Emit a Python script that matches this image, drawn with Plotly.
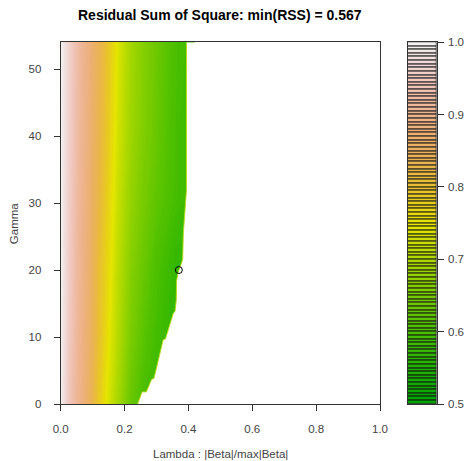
import colorsys
import plotly.graph_objects as go

# Grid of the RSS surface: lambda = |Beta|/max|Beta|, gamma = tuning parameter
lambda_vals = [0.00, 0.03, 0.06, 0.09, 0.12, 0.15, 0.18, 0.22, 0.26, 0.30, 0.34, 0.37, 0.42]
gamma_vals = [0, 10, 20, 30, 40, 54]
rss = [
    [1.000, 0.940, 0.895, 0.850, 0.785, 0.735, 0.690, 0.630, 0.595, None, None, None, None],
    [1.000, 0.945, 0.900, 0.860, 0.800, 0.750, 0.705, 0.650, 0.615, 0.590, 0.575, None, None],
    [1.000, 0.950, 0.905, 0.865, 0.805, 0.760, 0.712, 0.662, 0.630, 0.600, 0.580, 0.567, None],
    [1.000, 0.952, 0.908, 0.870, 0.820, 0.770, 0.722, 0.675, 0.645, 0.620, 0.600, 0.587, 0.580],
    [1.000, 0.956, 0.912, 0.875, 0.830, 0.780, 0.730, 0.685, 0.655, 0.630, 0.605, 0.590, 0.585],
    [1.000, 0.960, 0.915, 0.880, 0.840, 0.790, 0.740, 0.690, 0.660, 0.635, 0.610, 0.592, 0.588],
]

# Largest attainable lambda for each gamma (edge of the fitted region)
edge_lambda = [0.241, 0.255, 0.268, 0.285, 0.292, 0.321, 0.328, 0.353, 0.358, 0.362,
               0.363, 0.368, 0.376, 0.382, 0.384, 0.387, 0.391, 0.394, 0.394]
edge_gamma = [0.0, 1.8, 1.8, 3.7, 3.8, 9.6, 9.7, 13.6, 13.8, 15.5,
              18.4, 19.7, 20.7, 21.6, 25.4, 27.3, 30.3, 32.0, 54.0]

# Colour key levels
z_low, z_high, z_step = 0.5, 1.0, 0.005
key_ticks = [0.5, 0.6, 0.7, 0.8, 0.9, 1.0]
x_ticks = [0.0, 0.2, 0.4, 0.6, 0.8, 1.0]
y_ticks = [0, 10, 20, 30, 40, 50]


def terrain_colors(n):
    """R's terrain.colors palette."""
    k = n // 2
    h = (4 / 12, 2 / 12, 0.0)
    s = (1.0, 1.0, 0.0)
    v = (0.65, 0.9, 0.95)
    out = []

    def seq(a, b, m):
        return [a + (b - a) * i / (m - 1) for i in range(m)] if m > 1 else [a]

    hs, ss, vs = seq(h[0], h[1], k), seq(s[0], s[1], k), seq(v[0], v[1], k)
    out += list(zip(hs, ss, vs))
    m = n - k + 1
    hs, ss, vs = seq(h[1], h[2], m)[1:], seq(s[1], s[2], m)[1:], seq(v[1], v[2], m)[1:]
    out += list(zip(hs, ss, vs))
    cols = []
    for hh, sv, vv in out:
        r, g, b = colorsys.hsv_to_rgb(hh, sv, vv)
        cols.append("rgb(%d,%d,%d)" % (round(r * 255), round(g * 255), round(b * 255)))
    return cols


n_bands = int(round((z_high - z_low) / z_step))
palette = terrain_colors(n_bands)
band_base = [z_low + i * z_step for i in range(n_bands)]
colorscale = [[i / (n_bands - 1), c] for i, c in enumerate(palette)]

# Minimum of the surface
flat = [(z, lam, gam) for row, gam in zip(rss, gamma_vals)
        for z, lam in zip(row, lambda_vals) if z is not None]
min_rss, min_lambda, min_gamma = min(flat)

W, H = 468, 461
PX_L, PX_R, PX_T, PX_B = 60.7, 380.0, 42.3, 404.0
KEY_L, KEY_R = 407.7, 436.7
dom_x = [PX_L / W, PX_R / W]
dom_y = [1 - PX_B / H, 1 - PX_T / H]
dom_key = [KEY_L / W, KEY_R / W]

FONT = "Liberation Sans, Arial, sans-serif"
TXT = "#444444"
LINE = "#333333"

fig = go.Figure()

fig.add_trace(go.Contour(
    x=lambda_vals, y=gamma_vals, z=rss,
    zmin=z_low, zmax=z_high, colorscale=colorscale,
    autocontour=False,
    contours=dict(start=z_low, end=z_high, size=z_step, coloring="fill", showlines=False),
    line=dict(width=0), connectgaps=True, showscale=False, hoverinfo="skip",
    xaxis="x", yaxis="y",
))

# Outside the attainable region the surface is undefined
mask_x = edge_lambda + [1.0, 1.0, edge_lambda[0]]
mask_y = edge_gamma + [edge_gamma[-1], 0.0, 0.0]
fig.add_trace(go.Scatter(
    x=mask_x, y=mask_y, mode="lines", fill="toself", fillcolor="white",
    line=dict(width=0, color="white"), hoverinfo="skip", showlegend=False,
    xaxis="x", yaxis="y",
))
fig.add_trace(go.Scatter(
    x=edge_lambda, y=edge_gamma, mode="lines",
    line=dict(width=1, color="rgba(185,218,20,0.9)"), hoverinfo="skip", showlegend=False,
    xaxis="x", yaxis="y",
))

# Location of the minimum
fig.add_trace(go.Scatter(
    x=[min_lambda], y=[min_gamma], mode="markers",
    marker=dict(symbol="circle-open", size=7, color="black", line=dict(width=1)),
    hoverinfo="skip", showlegend=False, xaxis="x", yaxis="y",
))

# Colour key: one outlined band per level
fig.add_trace(go.Bar(
    x=[0] * n_bands, y=[z_step] * n_bands, base=band_base, width=1,
    marker=dict(color=palette, line=dict(color="#111111", width=0.9)),
    hoverinfo="skip", showlegend=False, xaxis="x2", yaxis="y2",
))

axis_common = dict(
    showgrid=False, zeroline=False, showline=True, mirror=True,
    linecolor=LINE, linewidth=1, ticks="outside", ticklen=6, tickwidth=1,
    tickcolor=LINE, tickfont=dict(family=FONT, size=11.5, color=TXT),
)

fig.update_layout(
    template="none",
    width=W, height=H,
    margin=dict(l=0, r=0, t=0, b=0, autoexpand=False),
    paper_bgcolor="white", plot_bgcolor="white",
    font=dict(family=FONT, size=11.5, color=TXT),
    showlegend=False, bargap=0,
    xaxis=dict(domain=dom_x, range=[0, 1], tickvals=x_ticks,
               ticktext=["%.1f" % t for t in x_ticks], anchor="y",
               ticklabelstandoff=8, **axis_common),
    yaxis=dict(domain=dom_y, range=[0, 54], tickvals=y_ticks,
               ticktext=[str(t) for t in y_ticks], anchor="x",
               ticklabelstandoff=10, **axis_common),
    xaxis2=dict(domain=dom_key, range=[-0.5, 0.5], anchor="y2",
                showticklabels=False, showgrid=False, zeroline=False,
                showline=True, mirror=True, linecolor=LINE, linewidth=1, ticks=""),
    yaxis2=dict(domain=dom_y, range=[z_low, z_high], anchor="x2", side="right",
                tickvals=key_ticks, ticktext=["%.1f" % t for t in key_ticks],
                ticklabelstandoff=2, **axis_common),
    annotations=[
        dict(text="<b>Residual Sum of Square: min(RSS) = %.3f</b>" % min_rss,
             x=(PX_L + PX_R) / 2 / W, y=1 - 15.5 / H, xref="paper", yref="paper",
             xanchor="center", yanchor="middle", showarrow=False,
             font=dict(family=FONT, size=14, color="black")),
        dict(text="Lambda : |Beta|/max|Beta|",
             x=(PX_L + PX_R) / 2 / W, y=1 - 454 / H, xref="paper", yref="paper",
             xanchor="center", yanchor="middle", showarrow=False,
             font=dict(family=FONT, size=11.5, color=TXT)),
        dict(text="Gamma", textangle=-90,
             x=14 / W, y=1 - (PX_T + PX_B) / 2 / H, xref="paper", yref="paper",
             xanchor="center", yanchor="middle", showarrow=False,
             font=dict(family=FONT, size=11.5, color=TXT)),
    ],
)

fig.write_html("out.html")
